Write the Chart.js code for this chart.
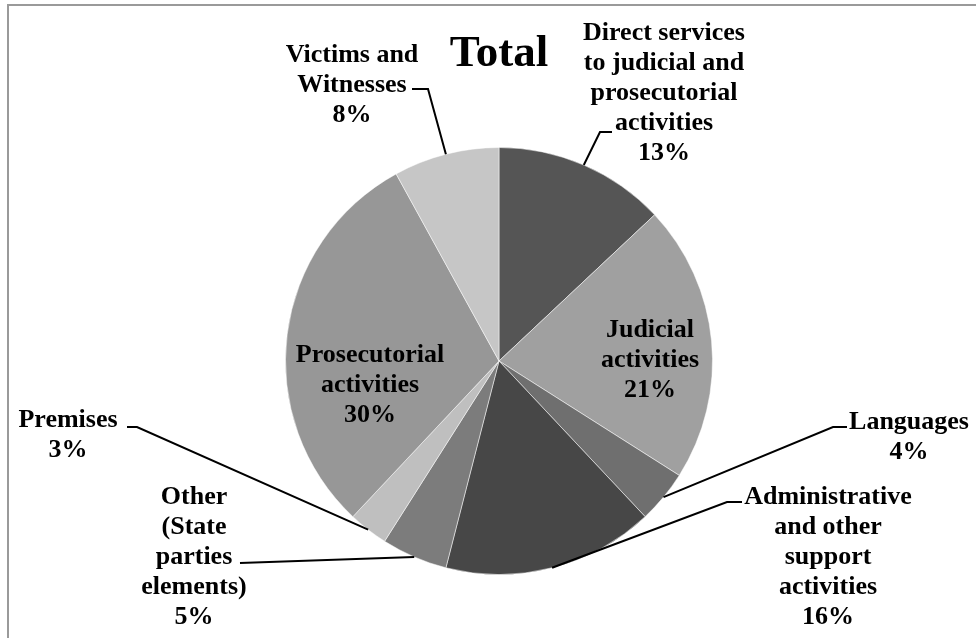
<!DOCTYPE html>
<html>
<head>
<meta charset="utf-8">
<script src="https://cdn.jsdelivr.net/npm/chart.js@4/dist/chart.umd.min.js"></script>
<style>
  html, body { margin: 0; padding: 0; background: #fff; }
  #wrap { width: 976px; height: 638px; position: relative; }
</style>
</head>
<body>
<div id="wrap"><canvas id="total"></canvas></div>
<script>
// slices, clockwise from 12 o'clock
var categories = [
    ['Direct services', 'to judicial and', 'prosecutorial', 'activities'],
    ['Judicial', 'activities'],
    ['Languages'],
    ['Administrative', 'and other', 'support', 'activities'],
    ['Other', '(State', 'parties', 'elements)'],
    ['Premises'],
    ['Prosecutorial', 'activities'],
    ['Victims and', 'Witnesses']
];
var shares = [13, 21, 4, 16, 5, 3, 30, 8];
var sliceColors = ['#555555', '#a0a0a0', '#6f6f6f', '#474747', '#7c7c7c', '#bfbfbf', '#979797', '#c6c6c6'];

// where each label sits (first line centre) and where its leader line bends
var labelLayout = [
    { x: 664, y: 33,  elbow: [600, 132], tail: [612, 132] },
    { x: 650, y: 330, inside: true },
    { x: 909, y: 422, elbow: [833, 427], tail: [847, 427] },
    { x: 828, y: 497, elbow: [727, 502], tail: [742, 502] },
    { x: 194, y: 497, elbow: [240, 563], tail: [240, 563] },
    { x: 68,  y: 420, elbow: [137, 427], tail: [127, 427] },
    { x: 370, y: 355, inside: true },
    { x: 352, y: 55,  elbow: [428, 89],  tail: [412, 89] }
];

var FONT = 'bold 26px "Liberation Serif", "Times New Roman", serif';
var LINE = 30;

var pieLabels = {
    id: 'pieLabels',
    beforeDraw: function(chart) {
        var ctx = chart.ctx;
        ctx.save();
        ctx.strokeStyle = '#9a9a9a';
        ctx.lineWidth = 2;
        ctx.beginPath();
        ctx.moveTo(976, 5);
        ctx.lineTo(8, 5);
        ctx.lineTo(8, 638);
        ctx.stroke();
        ctx.restore();
    },
    afterDraw: function(chart) {
        var ctx = chart.ctx;
        var arcs = chart.getDatasetMeta(0).data;
        ctx.save();

        // title
        ctx.fillStyle = '#000';
        ctx.font = 'bold 45px "Liberation Serif", "Times New Roman", serif';
        ctx.textAlign = 'center';
        ctx.textBaseline = 'alphabetic';
        ctx.fillText('Total', 499, 66);

        ctx.font = FONT;
        ctx.textBaseline = 'middle';
        arcs.forEach(function(arc, i) {
            var lay = labelLayout[i];
            var lines = categories[i].concat([shares[i] + '%']);
            if (!lay.inside) {
                var p = arc.getProps(['x', 'y', 'startAngle', 'endAngle', 'outerRadius'], true);
                var mid = (p.startAngle + p.endAngle) / 2;
                var ex = p.x + Math.cos(mid) * p.outerRadius;
                var ey = p.y + Math.sin(mid) * p.outerRadius;
                ctx.strokeStyle = '#000';
                ctx.lineWidth = 2;
                ctx.beginPath();
                ctx.moveTo(ex, ey);
                ctx.lineTo(lay.elbow[0], lay.elbow[1]);
                ctx.lineTo(lay.tail[0], lay.tail[1]);
                ctx.stroke();
            }
            lines.forEach(function(t, k) {
                ctx.fillText(t, lay.x, lay.y + k * LINE);
            });
        });
        ctx.restore();
    }
};

new Chart(document.getElementById('total'), {
    type: 'pie',
    data: {
        labels: categories.map(function(c) { return c.join(' '); }),
        datasets: [{
            data: shares,
            backgroundColor: sliceColors,
            borderColor: 'rgba(255, 255, 255, 0.5)',
            borderWidth: 1
        }]
    },
    options: {
        responsive: true,
        maintainAspectRatio: false,
        animation: false,
        layout: { padding: { top: 147, bottom: 63, left: 22, right: 0 } },
        plugins: {
            legend: { display: false },
            title: { display: false },
            tooltip: { enabled: false }
        }
    },
    plugins: [pieLabels]
});
</script>
</body>
</html>
